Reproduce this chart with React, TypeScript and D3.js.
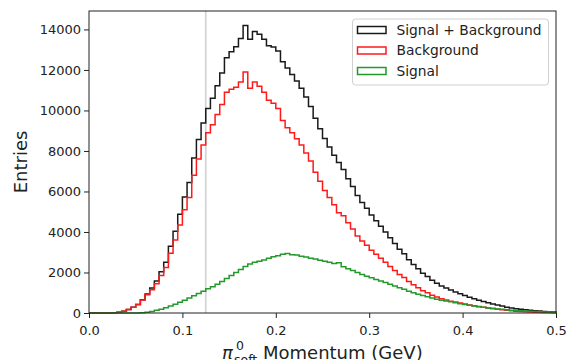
import React, { useEffect, useRef } from 'react';
import * as d3 from 'd3';

// bins: 100 bins of width 0.005 from 0 to 0.5 GeV
const BIN_WIDTH = 0.005;
const X_RANGE: [number, number] = [0, 0.5];
const CUT_VALUE = 0.125;

// background counts per bin
const background = [
  0, 0, 0, 0, 0, 10, 40, 90, 170, 280,
  420, 640, 900, 1150, 1450, 1850, 2250, 2950, 3600, 4350,
  5100, 5700, 6800, 7600, 8300, 8900, 9300, 9800, 10300, 10900,
  11050, 11150, 11400, 11900, 11100, 11400, 11200, 10900, 10500, 10350,
  10100, 9500, 9150, 8900, 8600, 8300, 7900, 7500, 6950, 6500,
  6050, 5700, 5350, 4950, 4800, 4450, 4150, 3800, 3550, 3350,
  3100, 2900, 2700, 2500, 2300, 2100, 1900, 1750, 1550, 1400,
  1250, 1100, 1000, 880, 790, 700, 640, 580, 540, 490,
  440, 400, 360, 320, 290, 250, 220, 190, 160, 130,
  110, 90, 75, 60, 50, 40, 32, 25, 20, 15,
];

// signal counts per bin
const signal = [
  0, 0, 0, 0, 0, 0, 0, 0, 0, 0,
  0, 15, 40, 80, 130, 190, 260, 340, 430, 530,
  630, 740, 850, 960, 1080, 1200, 1300, 1420, 1550, 1700,
  1850, 2000, 2150, 2300, 2420, 2500, 2560, 2620, 2700, 2780,
  2830, 2900, 2940, 2880, 2860, 2800, 2760, 2700, 2660, 2600,
  2560, 2500, 2440, 2480, 2280, 2180, 2100, 2000, 1900, 1820,
  1740, 1650, 1580, 1500, 1420, 1330, 1250, 1170, 1080, 1000,
  930, 860, 800, 740, 680, 630, 590, 550, 500, 460,
  420, 380, 340, 310, 280, 250, 225, 200, 180, 160,
  140, 125, 110, 95, 85, 72, 62, 52, 45, 38,
];

const xTicks = [0, 0.1, 0.2, 0.3, 0.4, 0.5];
const yTicks = [0, 2000, 4000, 6000, 8000, 10000, 12000, 14000];

const seriesNames = ['Signal + Background', 'Background', 'Signal'];
const seriesColors = ['#1a1a1a', '#ff1a1a', '#22992a'];

export default function App() {
  const ref = useRef<SVGSVGElement>(null);

  const WIDTH = 572;
  const HEIGHT = 360;
  const margin = { top: 11, right: 16, bottom: 47, left: 89 };
  const TICK_FONT = 13;
  const LABEL_FONT = 18;
  const FONT = 'DejaVu Sans, sans-serif';

  useEffect(() => {
    const svg = d3.select(ref.current);
    svg.selectAll('*').remove();

    const total = background.map((b, i) => b + signal[i]);
    const series = [total, background, signal];

    const x = d3.scaleLinear().domain(X_RANGE).range([margin.left, WIDTH - margin.right]);
    const yMax = (d3.max(total) as number) * 1.05;
    const y = d3.scaleLinear().domain([0, yMax]).range([HEIGHT - margin.bottom, margin.top]);

    const g = svg.append('g');

    // cut line
    g.append('line')
      .attr('x1', x(CUT_VALUE)).attr('x2', x(CUT_VALUE))
      .attr('y1', y(0)).attr('y2', y(yMax))
      .attr('stroke', '#d4d4d4')
      .attr('stroke-width', 1.8);

    // step outlines, like histtype='step'
    const line = d3.line<[number, number]>()
      .x(d => x(d[0]))
      .y(d => y(d[1]))
      .curve(d3.curveStepAfter);

    series.forEach((vals, k) => {
      const pts: [number, number][] = [[X_RANGE[0], 0]];
      vals.forEach((v, i) => pts.push([X_RANGE[0] + i * BIN_WIDTH, v]));
      pts.push([X_RANGE[1], vals[vals.length - 1]]);
      pts.push([X_RANGE[1], 0]);
      g.append('path')
        .attr('d', line(pts))
        .attr('fill', 'none')
        .attr('stroke', seriesColors[k])
        .attr('stroke-width', 1.5);
    });

    // axes
    const xAxis = g.append('g')
      .attr('transform', `translate(0,${y(0)})`)
      .call(d3.axisBottom(x).tickValues(xTicks).tickFormat(d3.format('.1f')).tickSize(5).tickSizeOuter(0));
    const yAxis = g.append('g')
      .attr('transform', `translate(${margin.left},0)`)
      .call(d3.axisLeft(y).tickValues(yTicks).tickFormat(d3.format('d')).tickSize(5).tickSizeOuter(0));

    [xAxis, yAxis].forEach(ax => {
      ax.select('.domain').remove();
      ax.selectAll('line').attr('stroke', '#222').attr('stroke-width', 1);
      ax.selectAll('text')
        .attr('font-family', FONT)
        .attr('font-size', TICK_FONT)
        .attr('fill', '#222');
    });
    xAxis.selectAll('text').attr('dy', '1.05em');

    // frame
    g.append('rect')
      .attr('x', margin.left).attr('y', margin.top)
      .attr('width', WIDTH - margin.left - margin.right)
      .attr('height', HEIGHT - margin.top - margin.bottom)
      .attr('fill', 'none')
      .attr('stroke', '#222')
      .attr('stroke-width', 1);

    // y label
    g.append('text')
      .attr('transform', `translate(27,${(margin.top + HEIGHT - margin.bottom) / 2}) rotate(-90)`)
      .attr('text-anchor', 'middle')
      .attr('font-family', FONT)
      .attr('font-size', LABEL_FONT)
      .attr('fill', '#222')
      .text('Entries');

    // x label: pi^0_soft Momentum (GeV), bottom is clipped like the original
    const label = g.append('g')
      .attr('font-family', FONT)
      .attr('fill', '#222');
    label.append('text')
      .attr('x', 222).attr('y', 359)
      .attr('font-size', LABEL_FONT)
      .attr('font-style', 'italic')
      .text('π');
    label.append('text')
      .attr('x', 236).attr('y', 350)
      .attr('font-size', 12.5)
      .text('0');
    label.append('text')
      .attr('x', 234).attr('y', 364)
      .attr('font-size', 12.5)
      .text('soft');
    label.append('text')
      .attr('x', 263).attr('y', 359)
      .attr('font-size', LABEL_FONT)
      .text('Momentum (GeV)');

    // legend
    const leg = g.append('g');
    leg.append('rect')
      .attr('x', 352.5).attr('y', 19)
      .attr('width', 196).attr('height', 66)
      .attr('rx', 3)
      .attr('fill', 'white')
      .attr('fill-opacity', 0.8)
      .attr('stroke', '#d0d0d0')
      .attr('stroke-width', 1);
    seriesNames.forEach((name, k) => {
      const cy = 30 + k * 20.5;
      leg.append('rect')
        .attr('x', 357.5).attr('y', cy - 3.5)
        .attr('width', 28.5).attr('height', 7)
        .attr('fill', 'none')
        .attr('stroke', seriesColors[k])
        .attr('stroke-width', 1.5);
      leg.append('text')
        .attr('x', 396.5).attr('y', cy + 4.8)
        .attr('font-family', FONT)
        .attr('font-size', 13.8)
        .attr('fill', '#222')
        .text(name);
    });
  }, []);

  return (
    <svg
      ref={ref}
      width={WIDTH}
      height={HEIGHT}
      style={{ position: 'absolute', left: 0, top: 0, background: 'white' }}
    />
  );
}
